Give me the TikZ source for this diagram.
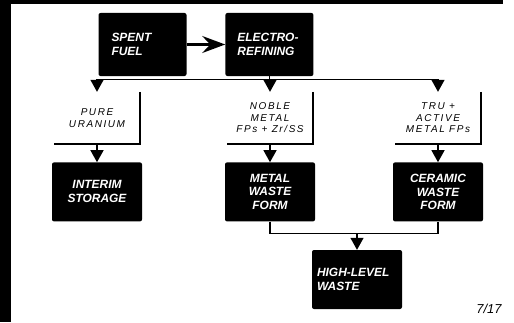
\documentclass[tikz,border=0pt]{standalone}
\usepackage{fontspec}
\setmainfont{Liberation Sans}
\newfontfamily\notefont[LetterSpace=16]{Liberation Sans}
\usetikzlibrary{arrows.meta, positioning}

\begin{document}
\begin{tikzpicture}[x=1bp, y=1bp, font=\fontsize{12}{14}\selectfont\bfseries\itshape,
        blk/.style={fill=black, text=white, rounded corners=2bp, inner sep=0pt,
            minimum width=90bp, minimum height=59bp, align=center},
        note/.style={fill=white, inner sep=0pt, minimum width=86bp, minimum height=52bp,
            align=center, font=\fontsize{10}{11.5}\selectfont\notefont\itshape},
        rim/.style={line width=2bp},
        wire/.style={line width=1.3bp},
        tr/.style={wire, -{Triangle[length=12bp, width=13bp]}},
        big/.style={line width=2.2bp, -{Stealth[length=23bp, width=17bp, inset=8bp]}}]
    \useasboundingbox (0,0) rectangle (514,322);
    % scanned frame
    \fill (0,0) rectangle (11,322);
    \fill (0,318) rectangle (503,322);
    % process
    \node[blk, minimum width=88bp, minimum height=63bp, text width=62bp, align=left] (spent) at (142.5,277.5) {SPENT\\FUEL};
    \node[blk, minimum width=88bp, minimum height=63bp, text width=64bp, align=left, right=38.5bp of spent] (elec) {ELECTRO-\\REFINING};
    % streams
    \node[note] (pure) at (97,204) {PURE\\URANIUM};
    \node[note] (noble) at (270,204) {NOBLE\\METAL\\FPs + Zr/SS};
    \node[note] (tru) at (438,204) {TRU +\\ACTIVE\\METAL FPs};
    \foreach \n in {pure,noble,tru} \draw[rim] (\n.north east) |- (\n.south west);
    % forms
    \node[blk, below=18bp of pure] (interim) {INTERIM\\STORAGE};
    \node[blk, below=18bp of noble] (metal) {METAL\\WASTE\\FORM};
    \node[blk, below=18bp of tru] (ceramic) {CERAMIC\\WASTE\\FORM};
    \node[blk, text width=80bp, align=left] (hlw) at (357,42.5) {HIGH-LEVEL\\WASTE};
    \node[font=\fontsize{13}{15}\selectfont\itshape] (fig) at (489,13) {7/17};
    % flows
    \draw[big] (spent) -- (elec);
    \draw[wire] (elec.south) -- ++(0,-3) coordinate (split);
    \draw[tr] (split) -| (pure.north);
    \draw[tr] (split) -| (tru.north);
    \draw[tr] (split -| noble.north) -- (noble.north);
    \draw[tr] (pure.south) -- (interim.north);
    \draw[tr] (noble.south) -- (metal.north);
    \draw[tr] (tru.south) -- (ceramic.north);
    \draw[wire] (metal.south) -- ++(0,-12) coordinate (join) -| (ceramic.south);
    \draw[tr] (join -| hlw.north) -- (hlw.north);
\end{tikzpicture}
\end{document}
